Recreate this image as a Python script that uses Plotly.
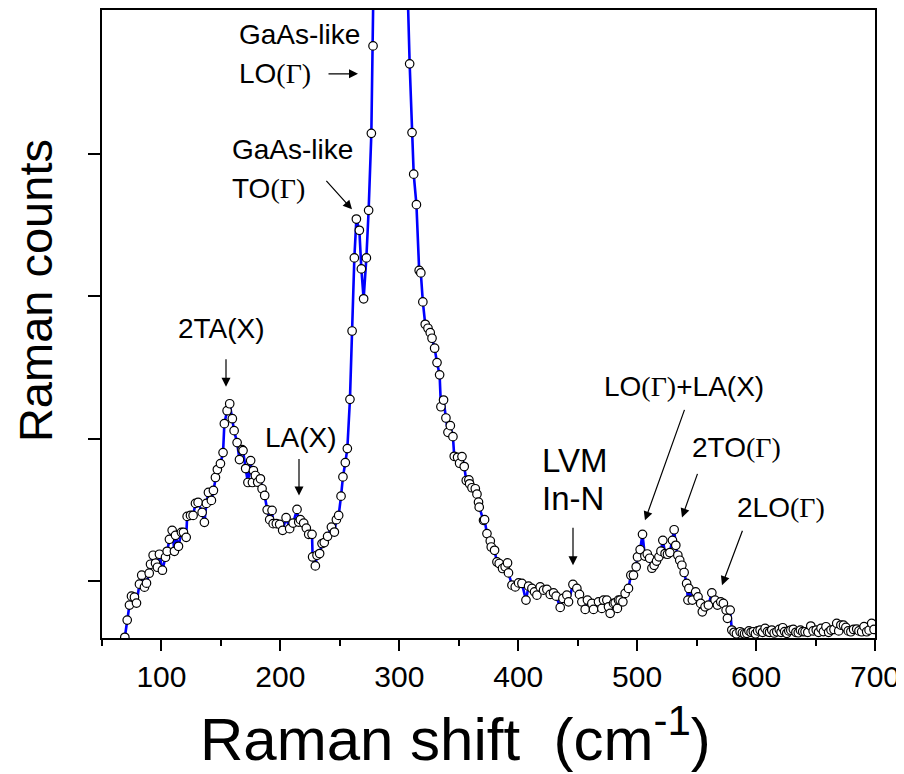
import plotly.graph_objects as go

# Raman shift (cm^-1)
shift = [
    69.2, 71.2, 73.1, 74.8, 77.3, 79.0, 81.5, 83.4, 85.7, 87.4, 89.7, 90.8, 93.0, 95.0, 96.6, 98.3,
    100.8, 103.4, 104.8, 106.7, 109.0, 110.9, 111.8, 114.3, 116.8, 118.5, 120.8, 121.6, 124.4, 126.6,
    128.6, 130.8, 134.2, 136.1, 137.8, 139.5, 142.0, 143.7, 145.4, 147.0, 149.6, 151.8, 152.9, 155.2,
    157.4, 159.6, 161.1, 163.6, 165.6, 167.8, 168.6, 170.8, 172.7, 175.0, 176.5, 177.3, 179.0, 180.9,
    183.2, 184.6, 186.8, 188.9, 191.0, 193.0, 193.9, 196.6, 199.4, 201.9, 204.8, 207.8, 210.7, 214.0,
    215.4, 216.8, 219.6, 221.8, 223.8, 226.6, 227.1, 229.4, 230.8, 233.0, 235.0, 236.9, 239.7, 242.9,
    245.4, 247.1, 249.0, 251.0, 252.6, 254.6, 256.3, 258.5, 260.3, 262.2, 263.9, 266.4, 268.1, 270.0,
    272.3, 274.2, 276.5, 277.9, 279.7, 281.6, 283.5, 285.4, 287.3, 289.2, 291.1, 293.0, 294.9, 296.8,
    298.7, 300.6, 302.5, 304.4, 306.5, 308.7, 310.7, 312.1, 314.4, 316.7, 318.1, 319.8, 321.8, 324.1,
    326.0, 327.5, 329.7, 331.7, 333.9, 335.0, 337.2, 339.2, 340.9, 342.9, 345.1, 346.2, 349.0, 350.7,
    352.7, 354.6, 356.3, 358.5, 359.1, 361.1, 363.9, 365.3, 366.6, 367.2, 370.8, 371.7, 373.7, 376.5,
    377.3, 380.1, 382.1, 384.0, 386.8, 389.0, 391.0, 391.8, 394.7, 397.5, 400.3, 403.1, 406.5, 408.7,
    411.5, 413.7, 415.7, 418.5, 421.3, 424.1, 426.9, 429.7, 431.9, 435.3, 437.6, 440.9, 442.3, 446.0,
    449.3, 451.5, 453.5, 456.3, 458.2, 461.9, 463.3, 467.5, 470.3, 471.7, 474.5, 475.9, 477.3, 480.1,
    481.5, 483.4, 484.3, 485.7, 488.0, 489.9, 492.7, 494.7, 496.9, 499.2, 500.3, 502.5, 504.5, 506.5,
    508.5, 510.5, 512.4, 514.3, 516.3, 518.3, 520.0, 521.6, 523.5, 525.5, 527.5, 529.7, 531.1, 532.5,
    534.2, 535.8, 537.6, 539.5, 541.6, 542.7, 543.5, 546.4, 549.2, 551.2, 553.4, 554.8, 557.1, 559.9,
    562.8, 565.5, 567.5, 570.3, 572.5, 574.8, 575.9, 578.2, 579.6, 581.5, 583.5, 586.6, 588.5, 590.3,
    592.2, 594.0, 595.8, 597.7, 599.5, 601.3, 603.4, 605.5, 607.6, 609.5, 611.3, 613.2, 615.2, 617.4,
    619.5, 621.0, 622.4, 624.0, 625.8, 627.5, 629.2, 631.3, 633.5, 635.5, 637.3, 639.2, 641.2, 643.5,
    646.0, 648.0, 650.6, 652.5, 654.6, 656.6, 658.8, 661.0, 663.0, 665.5, 667.8, 669.5, 671.3, 673.5,
    675.5, 677.5, 679.7, 682.0, 684.6, 686.5, 688.8, 690.8, 693.0, 695.0, 697.2, 699.2,
]

# Raman counts (arbitrary units)
counts = [
    5, 126, 231, 294, 287, 245, 378, 441, 357, 385, 455, 518, 581, 525, 497, 588,
    476, 567, 609, 693, 756, 609, 721, 644, 742, 742, 707, 854, 861, 861,
    945, 952, 882, 812, 945, 1022, 966, 1036, 1127, 1183, 1225, 1302, 1505, 1596,
    1645, 1540, 1456, 1372, 1253, 1323, 1316, 1190, 1092, 1246, 1092, 1176, 1141, 1094,
    1118, 1048, 1001, 900, 831, 896, 803, 803, 798, 756, 845, 768, 807, 903,
    814, 831, 807, 772, 728, 728, 569, 506, 581, 593, 663, 670, 714, 779,
    744, 831, 861, 996, 1131, 1232, 1330, 1676, 2156, 2669, 2942, 2863, 2592, 2382,
    2669, 3003, 3544, 4158, 5300, 6800, 8300, 9700, 10900, 11800, 12200, 12000, 11300, 10200,
    9000, 7800, 6700, 5600, 4700, 4032, 3549, 3257, 3043, 2581, 2564, 2360, 2203, 2175,
    2144, 2105, 2035, 1934, 1848, 1624, 1671, 1545, 1444, 1491, 1414, 1276, 1269, 1227,
    1274, 1204, 1106, 1110, 1083, 1055, 1048, 1010, 954, 919, 826, 831, 733, 681,
    639, 616, 534, 523, 488, 500, 527, 457, 371, 359, 387, 383, 266, 364,
    348, 324, 301, 359, 336, 341, 306, 317, 294, 215, 278, 301, 254, 376,
    348, 306, 254, 201, 266, 243, 201, 254, 208, 266, 266, 219, 173, 243,
    247, 208, 266, 266, 254, 313, 348, 441, 441, 500, 569, 621, 728, 575,
    590, 560, 490, 510, 540, 570, 610, 686, 593, 588, 600, 686, 760, 651,
    581, 546, 511, 460, 383, 266, 348, 266, 324, 289, 243, 184, 219, 231,
    317, 266, 231, 254, 243, 196, 138, 196, 56, 40, 30, 44, 35, 30,
    33, 50, 40, 44, 30, 50, 56, 40, 68, 45, 40, 56, 35, 44,
    60, 40, 72, 45, 33, 50, 55, 61, 40, 37, 55, 45, 44, 40,
    84, 50, 56, 40, 68, 45, 79, 40, 56, 60, 103, 50, 91, 90,
    75, 50, 44, 60, 63, 50, 44, 80, 44, 55, 103, 60,
]

x_range = [50, 700]
y_range = [0, 4410]
y_ticks = [400, 1400, 2400, 3400]

fig = go.Figure()
fig.add_trace(go.Scatter(
    x=shift, y=counts, mode="lines+markers",
    line=dict(color="#0000ff", width=2.6),
    marker=dict(symbol="circle", size=8.5, color="white", line=dict(color="black", width=1.2)),
    showlegend=False,
))

# The page body adds an 8 px offset; all layout positions below are screen pixels.
OFF = 8
W, H = 904 - OFF, 774 - OFF
L, R, T, B = 102, 875, 8, 638   # plot area in screen pixels


def px(xp):
    return (xp - L) / (R - L)


def py(yp):
    return (B - yp) / (B - T)


SANS = "Liberation Sans, Arial, sans-serif"
G = "<span style='font-family:Liberation Serif, Times New Roman, serif'>(Γ)</span>"

anns = []


def text(t, x, y, size=28, xanchor="left", angle=0):
    anns.append(dict(text=t, x=px(x), y=py(y), xref="paper", yref="paper", showarrow=False,
                     xanchor=xanchor, yanchor="middle", textangle=angle,
                     font=dict(family=SANS, size=size, color="black")))


def arrow(x0, y0, x1, y1):
    anns.append(dict(text="", x=px(x1), y=py(y1), xref="paper", yref="paper",
                     ax=x0 - x1, ay=y0 - y1, showarrow=True, arrowhead=2, arrowsize=1.5,
                     arrowwidth=1.2, arrowcolor="black", standoff=0))


text("GaAs-like", 237, 33)
text("LO" + G, 237, 72)
arrow(327, 72, 358, 72)
text("GaAs-like", 230, 148)
text("TO" + G, 230, 187)
arrow(325, 178, 352, 208)
text("2TA(X)", 221, 328, xanchor="center")
arrow(226, 357, 226, 386)
text("LA(X)", 301, 437, xanchor="center")
arrow(299, 457, 299, 495)
text("LVM", 540, 460, size=33)
text("In-N", 540, 498, size=33)
arrow(573, 526, 573, 565)
text("LO" + G + "+LA(X)", 602, 386)
arrow(685, 408, 645, 520)
text("2TO" + G, 690, 447)
arrow(698, 472, 682, 517)
text("2LO" + G, 735, 507)
arrow(743, 529, 722, 585)

# axis titles
text("Raman counts", 35, 290, size=47, xanchor="center", angle=-90)
text("Raman shift\u00a0\u00a0(cm<sup>-1</sup>)", 455, 735, size=60, xanchor="center")

fig.update_layout(
    width=W, height=H,
    margin=dict(l=L - OFF, r=904 - R, t=T - OFF, b=774 - B),
    paper_bgcolor="white", plot_bgcolor="white",
    annotations=anns,
    font=dict(family=SANS, color="black"),
)
fig.update_xaxes(
    range=x_range, tick0=0, dtick=100, ticks="outside", ticklen=11, tickwidth=2, tickcolor="black",
    showline=True, linewidth=2, linecolor="black", mirror=True, showgrid=False, zeroline=False,
    tickfont=dict(family=SANS, size=30, color="black"),
    minor=dict(tick0=50, dtick=100, ticks="outside", ticklen=6, tickwidth=2, tickcolor="black", showgrid=False),
)
fig.update_yaxes(
    range=y_range, tickvals=y_ticks, ticks="outside", ticklen=12, tickwidth=2, tickcolor="black",
    showticklabels=False, showline=True, linewidth=2, linecolor="black", mirror=True,
    showgrid=False, zeroline=False,
)

fig.write_html("out.html")
